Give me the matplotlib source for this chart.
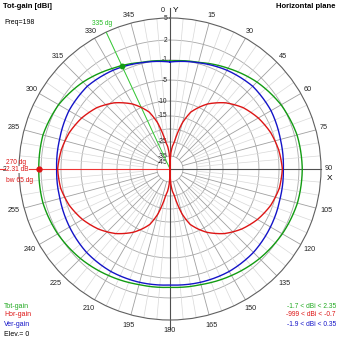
import numpy as np
import matplotlib
matplotlib.use("Agg")
import matplotlib.pyplot as plt

plt.rcParams['font.family'] = ['Liberation Sans', 'DejaVu Sans']

# azimuth in degrees (0 = Y axis, clockwise), gain in dBi
azimuth = [0, 15, 30, 45, 60, 75, 90, 105, 120, 135, 150, 165,
           180, 195, 210, 225, 240, 255, 270, 285, 300, 315, 330, 345]
tot_gain = [-1.2, -0.8, 0.1, 1.1, 1.9, 2.35, 2.45, 2.4, 2.1, 1.65, 1.1, 0.6,
            0.4, 0.6, 1.1, 1.65, 2.1, 2.35, 2.31, 2.35, 1.95, 1.1, 0.05, -0.8]
ver_gain = [-1.4, -0.85, -0.25, 0.2, 0.15, -0.2, -0.35, -0.25, 0.05, 0.35, 0.4, 0.25,
            0.05, 0.25, 0.4, 0.35, 0.05, -0.25, -0.35, -0.2, 0.15, 0.2, -0.25, -0.85]

hor_azimuth = [0, 3, 6, 9, 12, 15, 20, 25, 30, 40, 50, 60, 70, 80, 90,
               100, 110, 120, 130, 140, 150, 155, 160, 165, 168, 171, 174, 177, 180,
               183, 186, 189, 192, 195, 200, 205, 210, 220, 230, 240, 250, 260, 270,
               280, 290, 300, 310, 320, 330, 335, 340, 345, 348, 351, 354, 357, 360]
hor_gain = [-60, -33, -28, -25, -21, -17, -12.5, -10, -8.3, -5.6, -3.7, -2.4, -1.4, -0.8, -0.5,
            -0.7, -1.4, -2.6, -4.1, -6.1, -8.8, -10.6, -13, -17.5, -21.5, -25.5, -28.5, -33.5, -60,
            -33.5, -28.5, -25.5, -21.5, -17.5, -13, -10.6, -8.8, -6.1, -4.1, -2.6, -1.4, -0.7, -0.5,
            -0.8, -1.4, -2.4, -3.7, -5.6, -8.3, -10, -12.5, -17, -21, -25, -28, -33, -60]

ring_values = [2, -1, -5, -10, -15, -20, -25, -35]
ring_labels = [5, 2, -1, -5, -10, -15, -25, -35, -45]
marker_az = 270
cursor_az = 335

# compressed radial scale (dB -> fraction of outer radius), beyond 5 dB only for decorations
scale_db = [-60, -45, -35, -25, -20, -15, -10, -5, -1, 2, 5, 25]
scale_fr = [0, 0.04, 0.086, 0.179, 0.265, 0.351, 0.450, 0.589, 0.722, 0.854, 1.0, 1.2]


def fwd(v):
    return np.interp(v, scale_db, scale_fr)


def inv(v):
    return np.interp(v, scale_fr, scale_db)


def px(x, y):
    return x / 339, 1 - y / 339


def smooth(line):
    # let the polar transform draw segments as spirals instead of chords
    line.get_path()._interpolation_steps = 40
    return line


GREEN = '#129c12'
RED = '#dd1515'
BLUE = '#1414c8'

fig = plt.figure(figsize=(3.39, 3.39), dpi=100)
fig.patch.set_facecolor('white')
ax = fig.add_axes([19 / 339, 19 / 339, 302 / 339, 302 / 339], projection='polar')
ax.set_theta_zero_location('N')
ax.set_theta_direction(-1)
ax.set_yscale('function', functions=(fwd, inv))
ax.set_xticks([])
ax.set_yticks([])
ax.grid(False)
ax.spines['polar'].set_color('#606060')
ax.spines['polar'].set_linewidth(0.8)

full = np.linspace(0, 2 * np.pi, 721)
for v in ring_values:
    ax.plot(full, np.full_like(full, v), color='#a8a8a8', lw=0.6, zorder=1)

# spokes
for a in range(0, 360, 5):
    if a % 90 == 0:
        continue
    t = np.deg2rad(a)
    if a % 15 == 0:
        ax.plot([t, t], [-35, 5], color='#a0a0a0', lw=0.6, zorder=1)
    else:
        ax.plot([t, t], [-25, 5], color='#d8d8d8', lw=0.5, zorder=1)

# main axes
for a, top in [(0, 11.5), (180, 11.0), (90, 5)]:
    t = np.deg2rad(a)
    ax.plot([t, t], [-60, top], color='#505050', lw=0.8, zorder=2, clip_on=False)

# angle labels
for a in range(15, 360, 15):
    if a == 90:
        r = 10
    elif 105 <= a <= 285:
        r = 12
    else:
        r = 10.5
    ax.text(np.deg2rad(a), r, str(a), ha='center', va='center',
            fontsize=5.2, color='#222222', clip_on=False)
ax.annotate('0', xy=(0, 11), xytext=(-5, -1), textcoords='offset points',
            ha='center', va='center', fontsize=5.2, color='#222222', annotation_clip=False)
ax.annotate('Y', xy=(0, 11), xytext=(4, -1), textcoords='offset points',
            ha='center', va='center', fontsize=6, color='black', annotation_clip=False)
ax.annotate('X', xy=(np.pi / 2, 10), xytext=(1, -6.5), textcoords='offset points',
            ha='center', va='center', fontsize=6, color='black', annotation_clip=False)

# radial labels
for v in ring_labels:
    ax.annotate(str(v), xy=(0, v), xytext=(-2, 0), textcoords='offset points',
                ha='right', va='center', fontsize=4.8, color='#222222')

# pattern curves
th = np.deg2rad(np.r_[azimuth, 360])
smooth(ax.plot(th, np.r_[tot_gain, tot_gain[0]], color=GREEN, lw=1.0, zorder=4)[0])
smooth(ax.plot(th, np.r_[ver_gain, ver_gain[0]], color=BLUE, lw=1.0, zorder=5)[0])
smooth(ax.plot(np.deg2rad(hor_azimuth), hor_gain, color=RED, lw=1.0, zorder=6)[0])

# cursor lines
tc = np.deg2rad(cursor_az)
ax.plot([tc, tc], [-60, 5], color='#33cc33', lw=0.7, zorder=3)
ax.plot([tc], [np.interp(cursor_az, np.r_[azimuth, 360], np.r_[tot_gain, tot_gain[0]])],
        'o', color=GREEN, ms=3.2, zorder=7)
ax.text(tc, 11, '335 dg', ha='center', va='center', fontsize=4.8, color='#22bb22', clip_on=False)

tm = np.deg2rad(marker_az)
ax.plot([tm, tm], [-60, 17.6], color='#ee3333', lw=0.8, zorder=3, clip_on=False)
ax.plot([tm], [tot_gain[azimuth.index(marker_az)]], 'o', color=RED, ms=3.5, zorder=7)

ax.set_ylim(-60, 5)
ax.set_autoscale_on(False)

# texts
fig.text(*px(3, 6), 'Tot-gain [dBi]', fontsize=5.5, fontweight='bold', ha='left', va='center')
fig.text(*px(336, 6), 'Horizontal plane', fontsize=5.5, fontweight='bold', ha='right', va='center')
fig.text(*px(4, 23), 'Freq=198', fontsize=5, ha='left', va='center')

fig.text(*px(6, 162), '270 dg', fontsize=4.8, color=RED, ha='left', va='center')
fig.text(*px(6, 169.5), '2.31 dB', fontsize=4.8, color=RED, ha='left', va='center',
         bbox=dict(facecolor='white', edgecolor='none', pad=0.2))
fig.text(*px(6, 181), 'bw 65 dg', fontsize=4.8, color=RED, ha='left', va='center')

fig.text(*px(4, 306), 'Tot-gain', fontsize=5, color='#22aa22', ha='left', va='center')
fig.text(*px(4, 315), 'Hor-gain', fontsize=5, color=RED, ha='left', va='center')
fig.text(*px(4, 324), 'Ver-gain', fontsize=5, color=BLUE, ha='left', va='center')
fig.text(*px(4, 334), 'Elev.= 0', fontsize=5, color='black', ha='left', va='center')

fig.text(*px(336, 306), '-1.7 < dBi < 2.35', fontsize=4.8, color='#22aa22', ha='right', va='center')
fig.text(*px(336, 315), '-999 < dBi < -0.7', fontsize=4.8, color=RED, ha='right', va='center')
fig.text(*px(336, 324), '-1.9 < dBi < 0.35', fontsize=4.8, color=BLUE, ha='right', va='center')

fig.savefig('out.png', dpi=100, facecolor='white')
